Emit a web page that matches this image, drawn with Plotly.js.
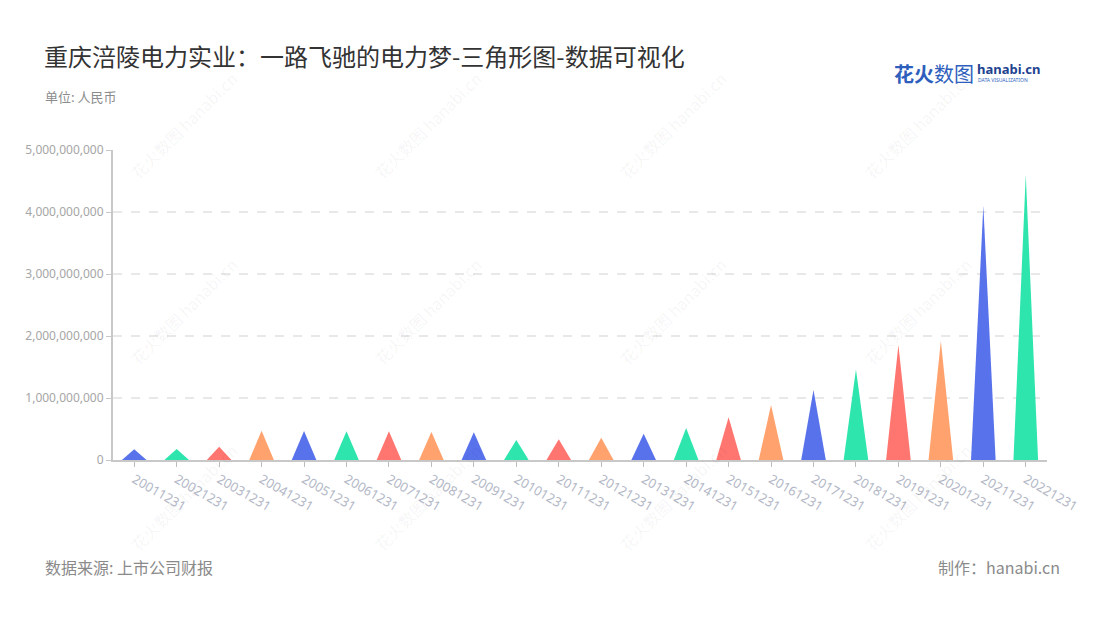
<!DOCTYPE html>
<html>
<head>
<meta charset="utf-8">
<script src="https://cdn.plot.ly/plotly-3.0.1.min.js"></script>
<style>
  html, body { margin: 0; padding: 0; background: #ffffff; }
  #chart { width: 1100px; height: 620px; }
</style>
</head>
<body>
<div id="chart"></div>
<script>
// ---- data ----
const categories = ["20011231","20021231","20031231","20041231","20051231","20061231","20071231","20081231","20091231","20101231","20111231","20121231","20131231","20141231","20151231","20161231","20171231","20181231","20191231","20201231","20211231","20221231"];
const values = [172000000, 177000000, 215000000, 473000000, 468000000, 463000000, 463000000, 452000000, 447000000, 323000000, 333000000, 360000000, 425000000, 516000000, 688000000, 887000000, 1129000000, 1460000000, 1855000000, 1920000000, 4100000000, 4600000000];
const yTickValues = [0, 1000000000, 2000000000, 3000000000, 4000000000, 5000000000];
const palette = ["#5872EB", "#2EE5AE", "#FF7570", "#FFA26D"];

const titleText = "重庆涪陵电力实业：一路飞驰的电力梦-三角形图-数据可视化";
const subtitleText = "单位: 人民币";
const sourceText = "数据来源: 上市公司财报";
const makerText = "制作：hanabi.cn";
const watermarkText = "花火数图 hanabi.cn";

// ---- layout helpers (pixel -> paper) ----
const L = 113, R = 1047, T = 150, B = 460;
const px = x => (x - L) / (R - L);
const py = y => (B - y) / (B - T);

const halfWidth = 0.29;
const traces = categories.map((c, i) => ({
  type: "scatter",
  mode: "lines",
  x: [i - halfWidth, i, i + halfWidth, i - halfWidth],
  y: [0, values[i], 0, 0],
  fill: "toself",
  fillcolor: palette[i % palette.length],
  line: { width: 0, color: palette[i % palette.length] },
  name: c,
  hoverinfo: "text",
  text: c + ": " + values[i].toLocaleString("en-US"),
  showlegend: false
}));

const CJK = "'Noto Sans CJK SC', 'Noto Sans', sans-serif";

const annotations = [];

const wmCols = [184, 428, 673, 918];
const wmRows = [125, 311, 497];
wmRows.forEach(ry => wmCols.forEach(cx => {
  annotations.push({
    text: watermarkText, x: px(cx), y: py(ry), xanchor: "center", yanchor: "middle",
    textangle: -45,
    font: { size: 16, color: "rgba(0,0,0,0.055)", family: CJK }
  });
}));

annotations.push(
  { text: titleText, x: px(42), y: py(55), xanchor: "left", yanchor: "middle",
    font: { size: 24, color: "#333333", family: CJK } },
  { text: subtitleText, x: px(43), y: py(96), xanchor: "left", yanchor: "middle",
    font: { size: 13, color: "#8c8c8c", family: CJK } },
  { text: sourceText, x: px(43), y: py(567), xanchor: "left", yanchor: "middle",
    font: { size: 16, color: "#8a8a8a", family: CJK } },
  { text: makerText, x: px(1062), y: py(567), xanchor: "right", yanchor: "middle",
    font: { size: 16, color: "#8a8a8a", family: CJK } },
  { text: "<b>花火</b>数图", x: px(892), y: py(73), xanchor: "left", yanchor: "middle",
    font: { size: 20, color: "#2F5FBD", family: CJK } },
  { text: "<b>hanabi.cn</b>", x: px(975), y: py(69), xanchor: "left", yanchor: "middle",
    font: { size: 13, color: "#22428F", family: "'Noto Sans', sans-serif" } },
  { text: "DATA VISUALIZATION", x: px(976), y: py(80), xanchor: "left", yanchor: "middle",
    font: { size: 5, color: "#2F5FBD", family: "'Noto Sans', sans-serif" } }
);
annotations.forEach(a => { a.xref = "paper"; a.yref = "paper"; a.showarrow = false; });

const layout = {
  width: 1100, height: 620,
  margin: { l: L, r: 1100 - R, t: T, b: 620 - B, pad: 0 },
  paper_bgcolor: "#ffffff",
  plot_bgcolor: "#ffffff",
  showlegend: false,
  xaxis: {
    type: "linear",
    range: [-0.5, categories.length - 0.5],
    tickmode: "array",
    tickvals: categories.map((c, i) => i),
    ticktext: categories,
    tickangle: 30,
    ticks: "outside", ticklen: 5, tickcolor: "#bdbdbd", tickwidth: 1,
    showline: true, linecolor: "#c8c8c8", linewidth: 2,
    showgrid: false, zeroline: false,
    tickfont: { size: 13, color: "#b3b7c6", family: "'Noto Sans', sans-serif" },
    automargin: false, fixedrange: true
  },
  yaxis: {
    range: [0, 5000000000],
    tickmode: "array",
    tickvals: yTickValues,
    ticktext: yTickValues.map(v => v.toLocaleString("en-US")),
    ticks: "outside", ticklen: 5, tickcolor: "#c8c8c8", tickwidth: 1,
    showline: true, linecolor: "#c8c8c8", linewidth: 2,
    showgrid: true, gridcolor: "#e8e8e8", gridwidth: 1.5, griddash: "dash",
    zeroline: false,
    tickfont: { size: 12, color: "#a6a6a6", family: "'Noto Sans', sans-serif" },
    automargin: false, fixedrange: true
  },
  annotations: annotations
};

Plotly.newPlot("chart", traces, layout, { displayModeBar: false, staticPlot: true });
</script>
</body>
</html>
